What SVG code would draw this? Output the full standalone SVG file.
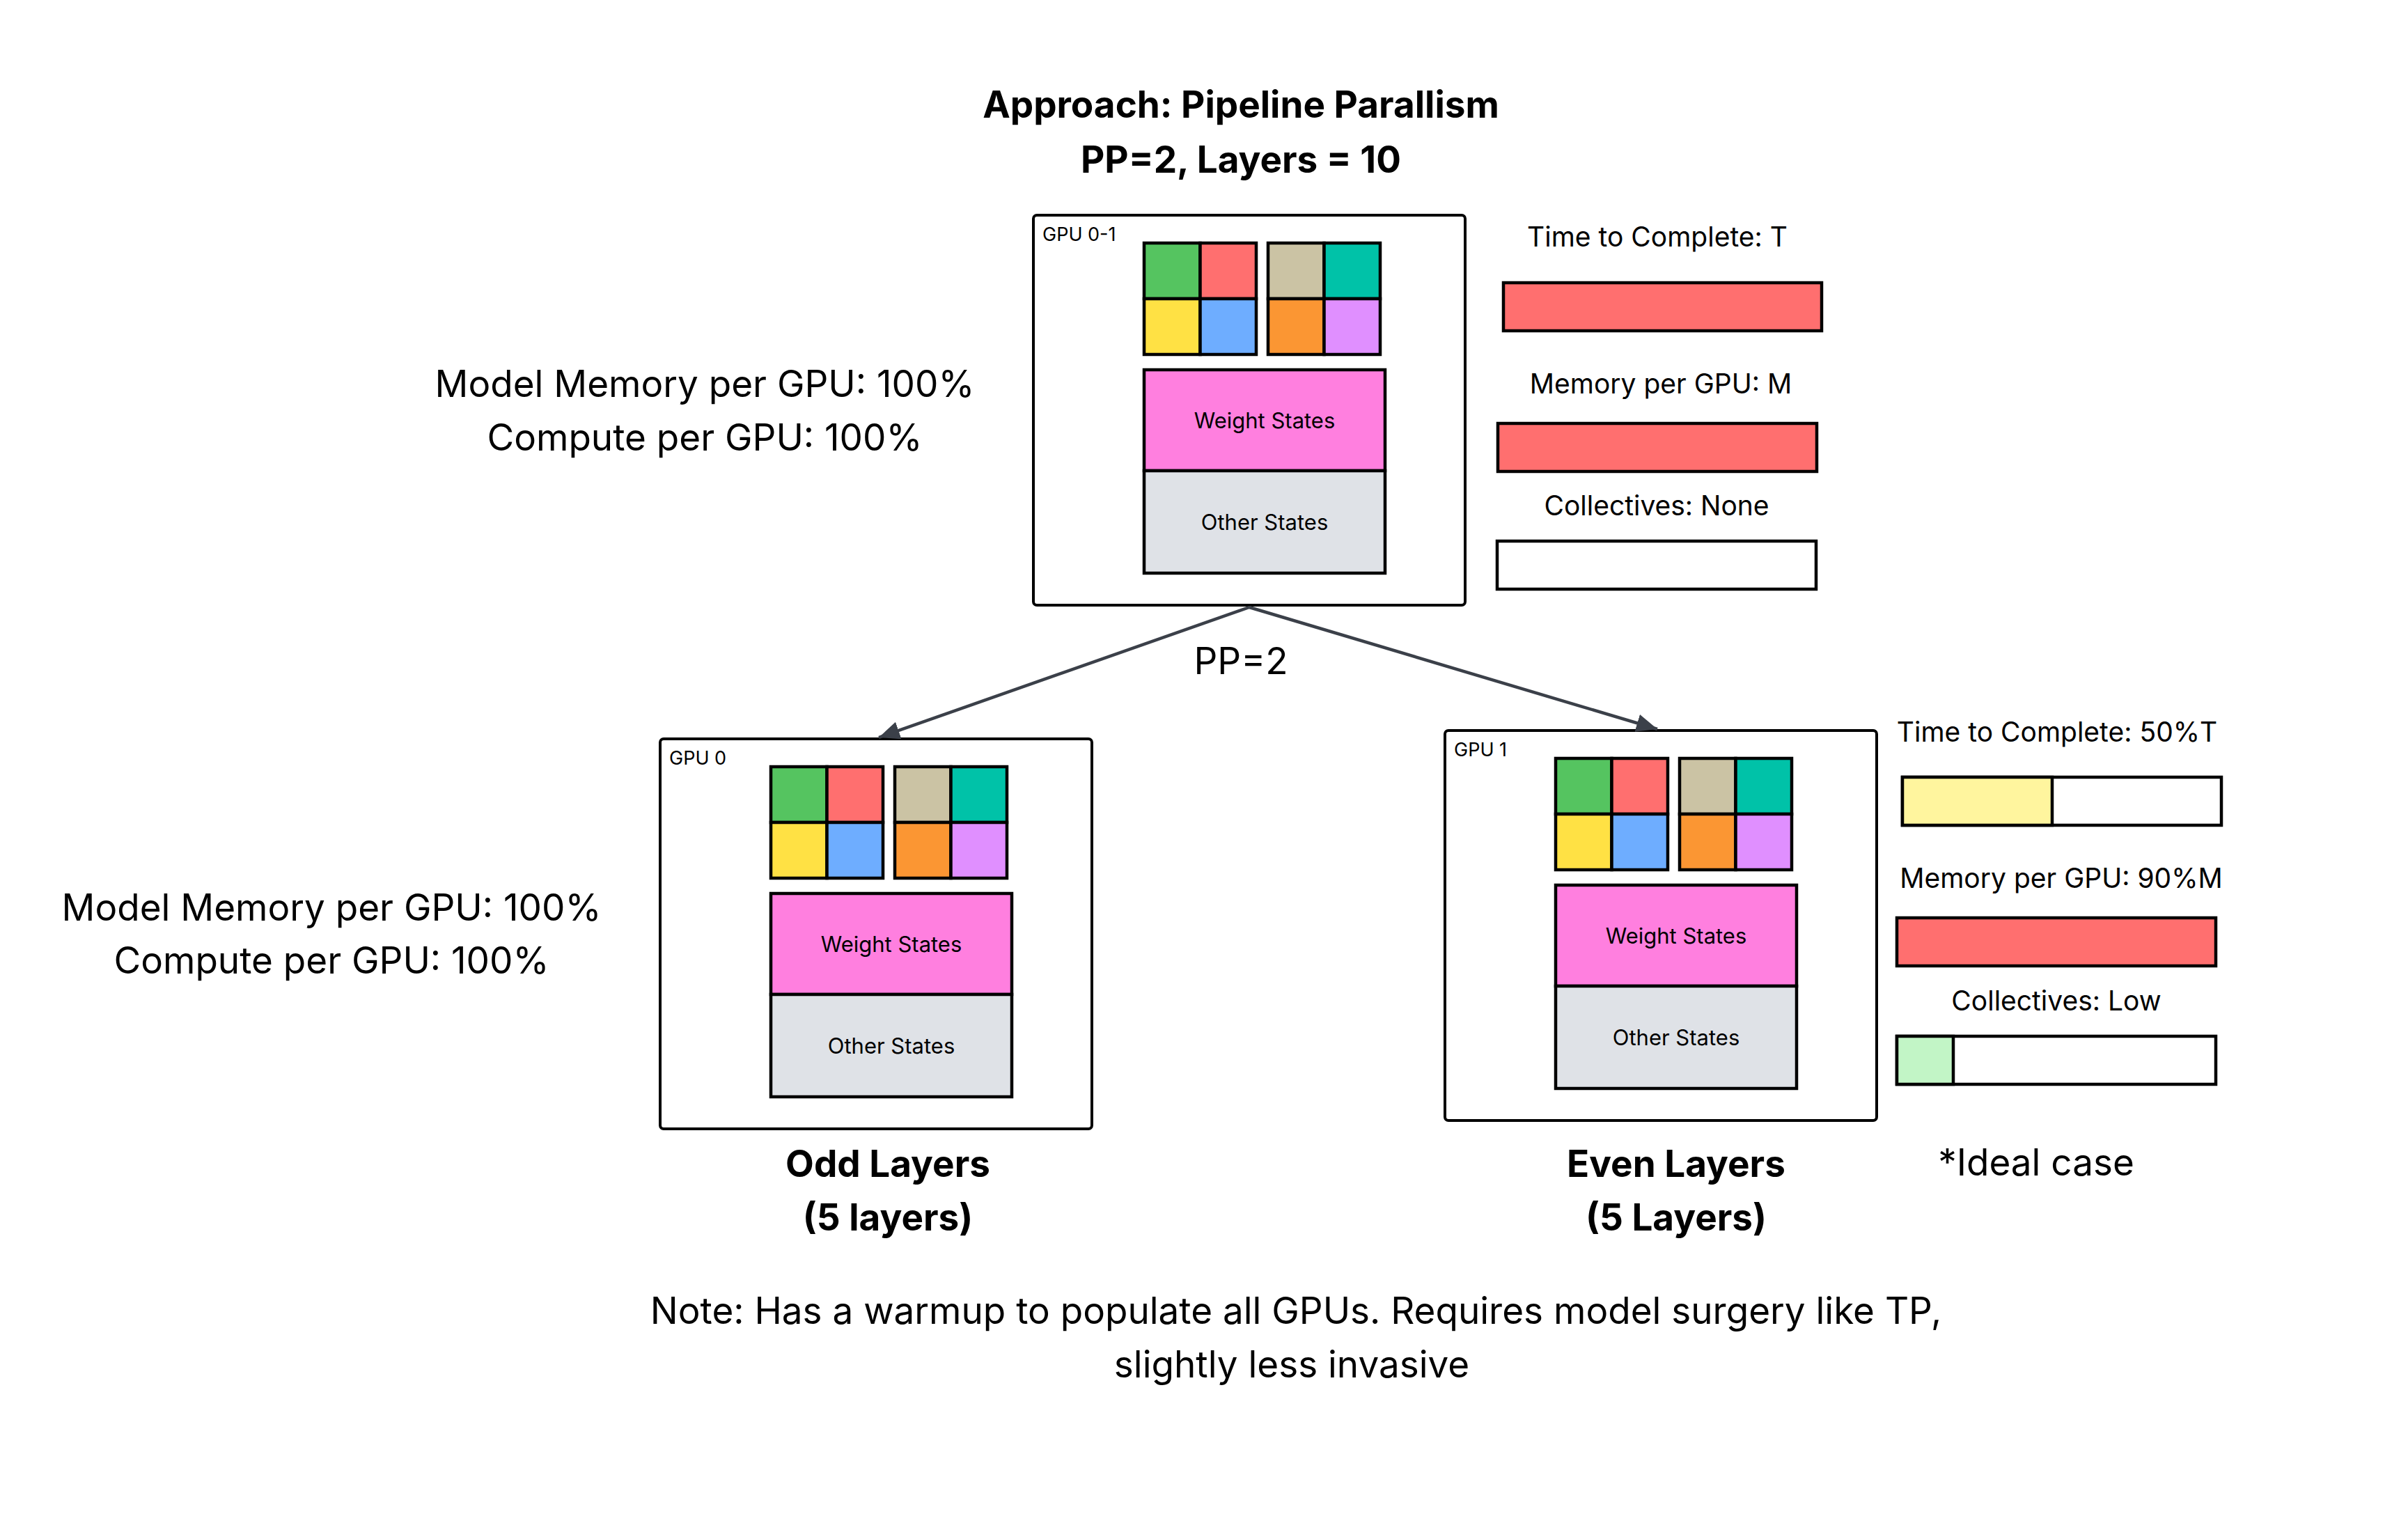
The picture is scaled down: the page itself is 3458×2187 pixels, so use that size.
<svg xmlns="http://www.w3.org/2000/svg" width="3458" height="2187" viewBox="0 0 3458 2187">
<style>
text{font-family:Inter,"Noto Sans","Liberation Sans",sans-serif;fill:#000}
.t{font-size:53px;font-weight:700;text-anchor:middle}
.b{font-size:53px;text-anchor:middle}
.s{font-size:39px;text-anchor:middle}
.in{font-size:31px;text-anchor:middle}
.lab{font-size:27px}
.box{fill:#fff;stroke:#000;stroke-width:4}
.r{stroke:#000;stroke-width:4.5}
.bar{stroke:#000;stroke-width:4.5}
.conn{stroke:#3b4049;stroke-width:4.5;fill:none}
</style>
<defs>
<marker id="ah" markerUnits="userSpaceOnUse" markerWidth="34" markerHeight="30" refX="30" refY="13" orient="auto">
<path d="M0,0 L30,13 L0,26 Z" fill="#3b4049"/>
</marker>
</defs>
<rect width="3458" height="2187" fill="#fff"/>
<g id="title">
<text class="t" x="1782" y="169">Approach: Pipeline Parallism</text>
<text class="t" x="1782" y="248">PP=2, Layers = 10</text>
</g>
<g id="info-top">
<text class="b" x="1012" y="570">Model Memory per GPU: 100%</text>
<text class="b" x="1012" y="647">Compute per GPU: 100%</text>
</g>
<g id="info-bottom">
<text class="b" x="476" y="1322">Model Memory per GPU: 100%</text>
<text class="b" x="476" y="1398">Compute per GPU: 100%</text>
</g>
<g id="gpu01" transform="translate(1484,309)">
<rect class="box" x="0" y="0" width="620" height="560" rx="5"/>
<text class="lab" x="13" y="37">GPU 0-1</text>
<rect class="r" x="159" y="40" width="80.5" height="80" fill="#55C460"/>
<rect class="r" x="239.5" y="40" width="80.5" height="80" fill="#FF6F6F"/>
<rect class="r" x="159" y="120" width="80.5" height="80" fill="#FFE144"/>
<rect class="r" x="239.5" y="120" width="80.5" height="80" fill="#6EADFF"/>
<rect class="r" x="337" y="40" width="80.5" height="80" fill="#CBC3A4"/>
<rect class="r" x="417.5" y="40" width="80.5" height="80" fill="#00C2A8"/>
<rect class="r" x="337" y="120" width="80.5" height="80" fill="#FB9633"/>
<rect class="r" x="417.5" y="120" width="80.5" height="80" fill="#E08FFF"/>
<rect class="r" x="159" y="222" width="346" height="145" fill="#FF7FDF"/>
<rect class="r" x="159" y="367" width="346" height="147" fill="#DFE2E7"/>
<text class="in" x="332" y="306">Weight States</text>
<text class="in" x="332" y="452">Other States</text>
</g>
<g id="gpu0" transform="translate(948,1061)">
<rect class="box" x="0" y="0" width="620" height="560" rx="5"/>
<text class="lab" x="13" y="37">GPU 0</text>
<rect class="r" x="159" y="40" width="80.5" height="80" fill="#55C460"/>
<rect class="r" x="239.5" y="40" width="80.5" height="80" fill="#FF6F6F"/>
<rect class="r" x="159" y="120" width="80.5" height="80" fill="#FFE144"/>
<rect class="r" x="239.5" y="120" width="80.5" height="80" fill="#6EADFF"/>
<rect class="r" x="337" y="40" width="80.5" height="80" fill="#CBC3A4"/>
<rect class="r" x="417.5" y="40" width="80.5" height="80" fill="#00C2A8"/>
<rect class="r" x="337" y="120" width="80.5" height="80" fill="#FB9633"/>
<rect class="r" x="417.5" y="120" width="80.5" height="80" fill="#E08FFF"/>
<rect class="r" x="159" y="222" width="346" height="145" fill="#FF7FDF"/>
<rect class="r" x="159" y="367" width="346" height="147" fill="#DFE2E7"/>
<text class="in" x="332" y="306">Weight States</text>
<text class="in" x="332" y="452">Other States</text>
</g>
<g id="gpu1" transform="translate(2075,1049)">
<rect class="box" x="0" y="0" width="620" height="560" rx="5"/>
<text class="lab" x="13" y="37">GPU 1</text>
<rect class="r" x="159" y="40" width="80.5" height="80" fill="#55C460"/>
<rect class="r" x="239.5" y="40" width="80.5" height="80" fill="#FF6F6F"/>
<rect class="r" x="159" y="120" width="80.5" height="80" fill="#FFE144"/>
<rect class="r" x="239.5" y="120" width="80.5" height="80" fill="#6EADFF"/>
<rect class="r" x="337" y="40" width="80.5" height="80" fill="#CBC3A4"/>
<rect class="r" x="417.5" y="40" width="80.5" height="80" fill="#00C2A8"/>
<rect class="r" x="337" y="120" width="80.5" height="80" fill="#FB9633"/>
<rect class="r" x="417.5" y="120" width="80.5" height="80" fill="#E08FFF"/>
<rect class="r" x="159" y="222" width="346" height="145" fill="#FF7FDF"/>
<rect class="r" x="159" y="367" width="346" height="147" fill="#DFE2E7"/>
<text class="in" x="332" y="306">Weight States</text>
<text class="in" x="332" y="452">Other States</text>
</g>
<g id="metrics-top">
<text class="s" x="2380" y="354">Time to Complete: T</text>
<rect class="bar" x="2159" y="406" width="457" height="69" fill="#FF6F6F"/>
<text class="s" x="2385" y="565">Memory per GPU: M</text>
<rect class="bar" x="2151" y="608" width="458" height="69" fill="#FF6F6F"/>
<text class="s" x="2379" y="740">Collectives: None</text>
<rect class="bar" x="2150" y="777" width="458" height="69" fill="#fff"/>
</g>
<g id="metrics-gpu1">
<text class="s" x="2954" y="1065">Time to Complete: 50%T</text>
<rect class="bar" x="2732" y="1116" width="458" height="69" fill="#fff"/>
<rect class="bar" x="2732" y="1116" width="215" height="69" fill="#FFF59E"/>
<text class="s" x="2960" y="1275">Memory per GPU: 90%M</text>
<rect class="bar" x="2724" y="1318" width="458" height="69" fill="#FF6F6F"/>
<text class="s" x="2953" y="1451">Collectives: Low</text>
<rect class="bar" x="2724" y="1488" width="458" height="69" fill="#fff"/>
<rect class="bar" x="2724" y="1488" width="81" height="69" fill="#C2F5C6"/>
</g>
<g id="connectors">
<line class="conn" x1="1794" y1="872" x2="1262" y2="1059" marker-end="url(#ah)"/>
<line class="conn" x1="1794" y1="872" x2="2380" y2="1047" marker-end="url(#ah)"/>
<text class="b" x="1782" y="968">PP=2</text>
</g>
<g id="labels">
<text class="t" x="1275" y="1690">Odd Layers</text>
<text class="t" x="1275" y="1767">(5 layers)</text>
<text class="t" x="2407" y="1690">Even Layers</text>
<text class="t" x="2407" y="1767">(5 Layers)</text>
<text class="b" x="2924" y="1688">*Ideal case</text>
</g>
<g id="note">
<text class="b" x="1861" y="1901">Note: Has a warmup to populate all GPUs. Requires model surgery like TP,</text>
<text class="b" x="1855" y="1978">slightly less invasive</text>
</g>
</svg>
